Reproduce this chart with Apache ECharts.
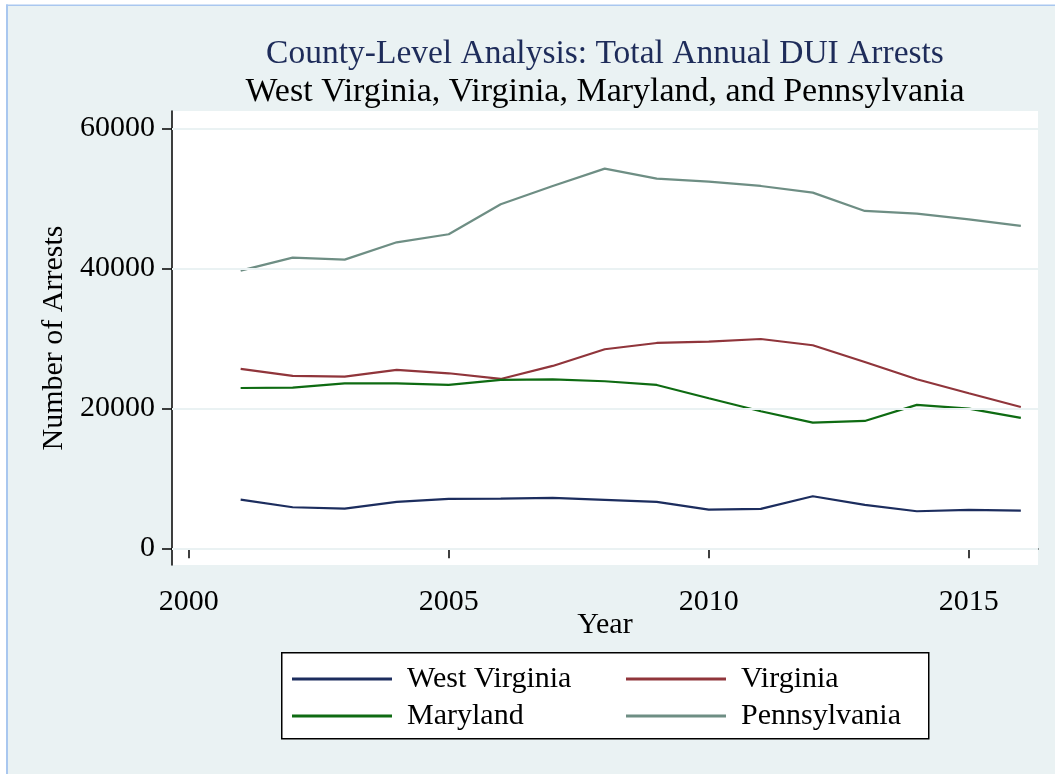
<!DOCTYPE html>
<html>
<head>
<meta charset="utf-8">
<script src="https://cdn.jsdelivr.net/npm/echarts@6/dist/echarts.min.js"></script>
<style>
html,body{margin:0;padding:0;background:#fff;}
#chart{width:1055px;height:774px;}
</style>
</head>
<body>
<div id="chart"></div>
<script>
const years = [2001,2002,2003,2004,2005,2006,2007,2008,2009,2010,2011,2012,2013,2014,2015,2016];
const westVirginia = [6950,5860,5670,6620,7050,7100,7190,6900,6620,5520,5620,7430,6190,5290,5480,5380];
const virginia = [25620,24620,24520,25480,25000,24190,26050,28430,29330,29520,29900,29000,26620,24140,22140,20190];
const maryland = [22900,22950,23570,23570,23330,24050,24140,23860,23330,21430,19570,17950,18190,20480,19950,18620];
const pennsylvania = [39670,41520,41240,43710,44860,49140,51760,54240,52810,52380,51760,50810,48190,47810,47000,46050];
const xTicks = [2000,2005,2010,2015];
const yTicks = [0,20000,40000,60000];

const FONT = '"Liberation Serif", "Times New Roman", serif';
const colors = {wv:'#1c2d5e', va:'#90353b', md:'#0e6b12', pa:'#6e8e84'};

function pairs(vals){ return years.map((y,i)=>[y, vals[i]]); }

const chart = echarts.init(document.getElementById('chart'));
const lineW = 2.2;
chart.setOption({
  backgroundColor:'#eaf2f3',
  animation:false,
  title:[
    {text:'County-Level Analysis: Total Annual DUI Arrests', left:605, top:37, textAlign:'center', padding:0,
     textStyle:{fontFamily:FONT, fontSize:33.5, fontWeight:'normal', color:'#1e2c5a'}},
    {text:'West Virginia, Virginia, Maryland, and Pennsylvania', left:605, top:75, textAlign:'center', padding:0,
     textStyle:{fontFamily:FONT, fontSize:34, fontWeight:'normal', color:'#000'}}
  ],
  grid:{left:172, right:17, top:111, bottom:209, show:true, backgroundColor:'#fff', borderWidth:0, containLabel:false},
  xAxis:{
    type:'value', min:1999.68, max:2016.33,
    name:'Year', nameLocation:'middle', nameGap:45, nameMoveOverlap:false,
    nameTextStyle:{fontFamily:FONT, fontSize:30, color:'#000'},
    axisLine:{show:true, lineStyle:{color:'#000', width:1.5}},
    axisTick:{show:true, length:10, customValues:xTicks, lineStyle:{color:'#000', width:1.5}},
    axisLabel:{customValues:xTicks, fontFamily:FONT, fontSize:30, color:'#000', margin:22,
      formatter:v=>String(v)},
    splitLine:{show:false}
  },
  yAxis:{
    type:'value', min:-2390, max:62470,
    name:'Number of Arrests', nameLocation:'middle', nameGap:103, nameRotate:90, nameMoveOverlap:false,
    nameTextStyle:{fontFamily:FONT, fontSize:30, color:'#000'},
    axisLine:{show:true, lineStyle:{color:'#000', width:1.5}},
    axisTick:{show:true, length:10, customValues:yTicks, lineStyle:{color:'#000', width:1.5}},
    axisLabel:{customValues:yTicks, fontFamily:FONT, fontSize:30, color:'#000', margin:17,
      formatter:v=>String(v)},
    splitLine:{show:false}
  },
  legend:[
    {data:['West Virginia','Maryland'], orient:'vertical', left:292, top:664, itemGap:7, padding:0,
     icon:'rect', itemWidth:100, itemHeight:3,
     textStyle:{fontFamily:FONT, fontSize:30, color:'#000', lineHeight:30, padding:[0,0,0,10]}},
    {data:['Virginia','Pennsylvania'], orient:'vertical', left:626, top:664, itemGap:7, padding:0,
     icon:'rect', itemWidth:100, itemHeight:3,
     textStyle:{fontFamily:FONT, fontSize:30, color:'#000', lineHeight:30, padding:[0,0,0,10]}}
  ],
  graphic:[
    {type:'rect', left:0, top:0, shape:{width:7, height:774}, style:{fill:'#fff'}, silent:true},
    {type:'rect', left:0, top:0, shape:{width:1055, height:5}, style:{fill:'#fff'}, silent:true},
    {type:'rect', left:6, top:4.5, shape:{width:2, height:770}, style:{fill:'#a9c7ef'}, silent:true},
    {type:'rect', left:6, top:4.5, shape:{width:1049, height:1.5}, style:{fill:'#a9c7ef'}, silent:true},
    {type:'rect', left:281, top:652, z:1, shape:{width:647, height:86}, style:{fill:'#fff', stroke:'#000', lineWidth:1.5}, silent:true}
  ],
  series:[
    {name:'West Virginia', type:'line', data:pairs(westVirginia), showSymbol:false, symbol:'none',
     lineStyle:{color:colors.wv, width:lineW}, itemStyle:{color:colors.wv},
     markLine:{silent:true, symbol:'none', label:{show:false}, animation:false,
       lineStyle:{color:'#eaf2f3', width:2, type:'solid'},
       data:yTicks.map(v=>({yAxis:v}))}},
    {name:'Virginia', type:'line', data:pairs(virginia), showSymbol:false, symbol:'none',
     lineStyle:{color:colors.va, width:lineW}, itemStyle:{color:colors.va}},
    {name:'Maryland', type:'line', data:pairs(maryland), showSymbol:false, symbol:'none',
     lineStyle:{color:colors.md, width:lineW}, itemStyle:{color:colors.md}},
    {name:'Pennsylvania', type:'line', data:pairs(pennsylvania), showSymbol:false, symbol:'none',
     lineStyle:{color:colors.pa, width:lineW}, itemStyle:{color:colors.pa}}
  ]
});
</script>
</body>
</html>
